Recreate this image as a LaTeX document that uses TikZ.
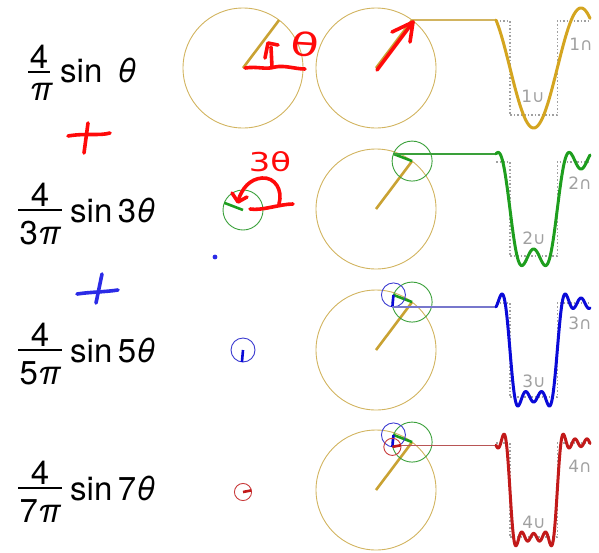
\documentclass[tikz,border=0pt]{standalone}
\usepackage{fontspec}
\setmainfont{TeX Gyre Heros}
\newfontfamily\dejavu{DejaVu Sans}
\usetikzlibrary{calc}
\definecolor{goldc}{HTML}{D2B460}
\definecolor{goldr}{HTML}{C9A233}
\definecolor{goldw}{HTML}{D4A520}
\definecolor{greenc}{HTML}{3AA03A}
\definecolor{greenw}{HTML}{1E9E1E}
\definecolor{bluec}{HTML}{3A3AD0}
\definecolor{bluew}{HTML}{0A0AD8}
\definecolor{bluel}{HTML}{7777CC}
\definecolor{redc}{HTML}{C83A3A}
\definecolor{redw}{HTML}{C21A1A}
\definecolor{redl}{HTML}{B85555}
\definecolor{grayd}{HTML}{A0A0A0}
\definecolor{pen}{HTML}{FF0A0A}
\definecolor{bpen}{HTML}{2B2BE6}
\newcommand\sqwave[1]{\draw[sq] (496,{#1-47.1}) -- (509.9,{#1-47.1}) -- (509.9,{#1+47.1}) -- (557.3,{#1+47.1}) -- (557.3,{#1-47.1}) -- (590,{#1-47.1});}
\begin{document}
\begin{tikzpicture}[x=1pt,y=-1pt,
  circ/.style={line width=0.9pt},
  rad/.style={line width=2.6pt},
  hline/.style={line width=1.3pt},
  wavest/.style={line width=3pt,line join=round,line cap=round},
  sq/.style={grayd,dotted,line width=1.5pt},
  lbl/.style={grayd,font=\dejavu\fontsize{17}{18}\selectfont,inner sep=0},
  fr/.style={font=\fontsize{33}{36}\selectfont,inner sep=0,anchor=base},
  frw/.style={font=\fontsize{33}{36}\selectfont,inner sep=0,anchor=base west},
  fbar/.style={line width=2.4pt},
  penst/.style={pen,line width=3.6pt,line cap=round,line join=round},
  bpenst/.style={bpen,line width=3.6pt,line cap=round,line join=round},
  pentext/.style={pen,inner sep=0,font=\dejavu\bfseries\fontsize{30}{30}\selectfont}]
\useasboundingbox (0,0) rectangle (599,552);
\coordinate (X) at (496,0);
% ---------------- formulas
\node[fr] (n1) at (39,68) {4};
\draw[fbar] (28,72) -- (50,72);
\node[fr] (d1) at (41,100) {\itshape π};
\node[frw] (s1) at (60,82) {sin\hspace{0.45em}{\itshape θ}};
\node[fr] (n2) at (40,206) {4};
\draw[fbar] (18,210) -- (62,210);
\node[fr] (d2) at (40,244) {3{\itshape π}};
\node[frw] (s2) at (70,222) {sin\,3{\itshape θ}};
\node[fr] (n3) at (40,346) {4};
\draw[fbar] (18,350) -- (62,350);
\node[fr] (d3) at (40,384) {5{\itshape π}};
\node[frw] (s3) at (70,362) {sin\,5{\itshape θ}};
\node[fr] (n4) at (40,484) {4};
\draw[fbar] (18,488) -- (62,488);
\node[fr] (d4) at (40,522) {7{\itshape π}};
\node[frw] (s4) at (70,500) {sin\,7{\itshape θ}};
% ---------------- row 1
\coordinate (L1) at (243,68);
\draw[goldc,circ] (L1) circle[radius=60];
\coordinate (L1t) at ($(L1)+(-53:60)$);
\draw[goldr,rad] (L1) -- (L1t);
\coordinate (C1) at (376,68);
\draw[goldc,circ] (C1) circle[radius=60];
\coordinate (C1t) at ($(C1)+(-53:60)$);
\draw[goldr,rad] (C1) -- (C1t);
\draw[goldc,hline] (C1t) -- (C1t -| X);
\sqwave{68}
\draw[goldw,wavest] plot[domain=496:590,samples=200,variable=\t] (\t,{68-60*sin(53-(\t-496)*3.8)});
\node[lbl] (u1) at (533,96) {1∪};
\node[lbl] (c1) at (581,44) {1∩};
% ---------------- row 2
\coordinate (L2) at (243,210);
\draw[greenc,circ] (L2) circle[radius=20];
\draw[greenw,rad] (L2) -- ($(L2)+(-159:20)$);
\coordinate (C2) at (376,209);
\draw[goldc,circ] (C2) circle[radius=60];
\coordinate (C2a) at ($(C2)+(-53:60)$);
\draw[goldr,rad] (C2) -- (C2a);
\draw[greenc,circ] (C2a) circle[radius=20];
\coordinate (C2b) at ($(C2a)+(-159:20)$);
\draw[greenw,rad] (C2a) -- (C2b);
\draw[greenc,hline] (C2b) -- (C2b -| X);
\sqwave{209}
\draw[greenw,wavest] plot[domain=496:590,samples=200,variable=\t] (\t,{209-60*(sin(53-(\t-496)*3.8)+sin(3*(53-(\t-496)*3.8))/3)});
\node[lbl] (u2) at (534,238) {2∪};
\node[lbl] (c2) at (580,183) {2∩};
% ---------------- row 3
\coordinate (L3) at (243,350);
\draw[bluec,circ] (L3) circle[radius=12];
\draw[bluew,rad] (L3) -- ($(L3)+(-265:12)$);
\coordinate (C3) at (376,350);
\draw[goldc,circ] (C3) circle[radius=60];
\coordinate (C3a) at ($(C3)+(-53:60)$);
\draw[goldr,rad] (C3) -- (C3a);
\draw[greenc,circ] (C3a) circle[radius=20];
\coordinate (C3b) at ($(C3a)+(-159:20)$);
\draw[greenw,rad] (C3a) -- (C3b);
\draw[bluec,circ] (C3b) circle[radius=12];
\coordinate (C3c) at ($(C3b)+(-265:12)$);
\draw[bluew,rad] (C3b) -- (C3c);
\draw[bluel,hline] (C3c) -- (C3c -| X);
\sqwave{350}
\draw[bluew,wavest] plot[domain=496:590,samples=240,variable=\t] (\t,{350-60*(sin(53-(\t-496)*3.8)+sin(3*(53-(\t-496)*3.8))/3+sin(5*(53-(\t-496)*3.8))/5)});
\node[lbl] (u3) at (534,381) {3∪};
\node[lbl] (c3) at (580,323) {3∩};
% ---------------- row 4
\coordinate (L4) at (243,492);
\draw[redc,circ] (L4) circle[radius=8.57];
\draw[redw,rad] (L4) -- ($(L4)+(-371:8.57)$);
\coordinate (C4) at (376,490);
\draw[goldc,circ] (C4) circle[radius=60];
\coordinate (C4a) at ($(C4)+(-53:60)$);
\draw[goldr,rad] (C4) -- (C4a);
\draw[greenc,circ] (C4a) circle[radius=20];
\coordinate (C4b) at ($(C4a)+(-159:20)$);
\draw[greenw,rad] (C4a) -- (C4b);
\draw[bluec,circ] (C4b) circle[radius=12];
\coordinate (C4c) at ($(C4b)+(-265:12)$);
\draw[bluew,rad] (C4b) -- (C4c);
\draw[redc,circ] (C4c) circle[radius=8.57];
\coordinate (C4d) at ($(C4c)+(-371:8.57)$);
\draw[redw,rad] (C4c) -- (C4d);
\draw[redl,hline] (C4d) -- (C4d -| X);
\sqwave{490}
\draw[redw,wavest] plot[domain=496:590,samples=280,variable=\t] (\t,{490-60*(sin(53-(\t-496)*3.8)+sin(3*(53-(\t-496)*3.8))/3+sin(5*(53-(\t-496)*3.8))/5+sin(7*(53-(\t-496)*3.8))/7)});
\node[lbl] (u4) at (534,522) {4∪};
\node[lbl] (c4) at (580,466) {4∩};
% ---------------- handwritten annotations
\draw[penst] (245,68) .. controls (258,66) and (265,70) .. (275,67) .. controls (285,65) and (295,69) .. (305,69);
\draw[penst] (272,67) -- (271,47);
\draw[penst] (265,58) -- (268,43) -- (278,45);
\node[pentext,font=\dejavu\fontsize{32}{32}\selectfont,xscale=1.45,rotate=-5] (th1) at (305,44) {θ};
\draw[penst] (377,70) -- (413,22);
\draw[penst] (392,32) -- (413,22) -- (410,42);
\draw[penst] (68,136) .. controls (85,133) and (100,136) .. (110,133);
\draw[penst] (88,123) -- (84,153);
\node[pentext,font=\dejavu\fontsize{26}{26}\selectfont,xscale=1.3] (th3) at (270,162) {3θ};
\draw[penst] (279,204) .. controls (283,190) and (275,177) .. (262,178) .. controls (250,179) and (242,188) .. (238,201);
\draw[penst] (232,193) -- (238,202) -- (247,197);
\draw[penst] (250,209) .. controls (262,211) and (280,204) .. (293,204);
\fill[bpen] (215,257) circle[radius=2.4];
\draw[bpenst] (77,294) .. controls (90,292) and (105,292) .. (118,290);
\draw[bpenst] (102,274) -- (96,303);
\end{tikzpicture}
\end{document}
